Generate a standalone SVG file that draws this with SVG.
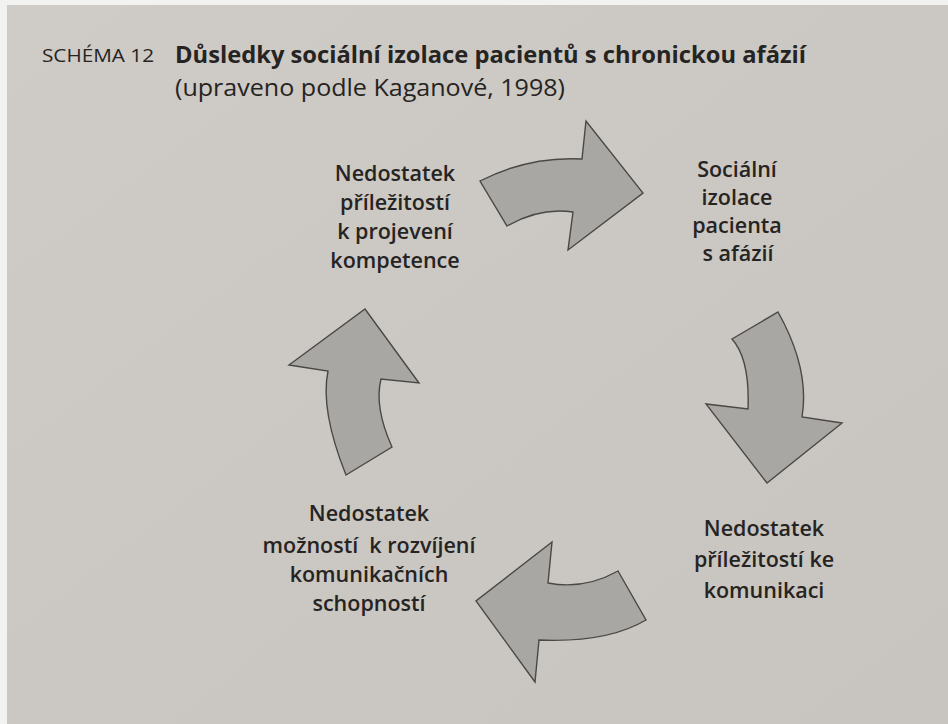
<svg xmlns="http://www.w3.org/2000/svg" width="948" height="724" viewBox="0 0 948 724">
  <defs>
    <linearGradient id="paper" x1="0" y1="0" x2="1" y2="1">
      <stop offset="0" stop-color="#cfcbc6"/>
      <stop offset="0.5" stop-color="#cbc7c2"/>
      <stop offset="1" stop-color="#c8c4bf"/>
    </linearGradient>
    <style>
      .t { font-family: "Open Sans", "Noto Sans", "DejaVu Sans", sans-serif; fill: #262422; }
      .title { font-weight: 700; font-size: 23px; }
      .sub { font-weight: 400; font-size: 23px; }
      .lbl { font-weight: 400; font-size: 18.5px; }
      .node { font-weight: 600; font-size: 21.5px; text-anchor: middle; }
      .arrow { fill: #a9a7a3; stroke: #4a4845; stroke-width: 1.4; stroke-linejoin: miter; }
    </style>
  </defs>

  <rect x="0" y="0" width="948" height="724" fill="#f2f2f0"/>
  <rect x="7" y="5" width="941" height="719" fill="url(#paper)"/>

  <g id="title">
    <text class="t lbl" x="42" y="62" textLength="112" lengthAdjust="spacingAndGlyphs">SCHÉMA 12</text>
    <text class="t title" x="175" y="63" textLength="631" lengthAdjust="spacingAndGlyphs">Důsledky sociální izolace pacientů s chronickou afázií</text>
    <text class="t sub" x="175" y="96" textLength="390" lengthAdjust="spacingAndGlyphs">(upraveno podle Kaganové, 1998)</text>
  </g>

  <g id="node-prilezitosti-kompetence">
    <text class="t node" x="395" y="181">Nedostatek</text>
    <text class="t node" x="395" y="210">příležitostí</text>
    <text class="t node" x="395" y="239">k projevení</text>
    <text class="t node" x="395" y="268">kompetence</text>
  </g>

  <g id="node-socialni-izolace">
    <text class="t node" x="737" y="177">Sociální</text>
    <text class="t node" x="737" y="205">izolace</text>
    <text class="t node" x="737" y="233">pacienta</text>
    <text class="t node" x="738" y="261">s afázií</text>
  </g>

  <g id="node-prilezitosti-komunikace">
    <text class="t node" x="764" y="536">Nedostatek</text>
    <text class="t node" x="764" y="567">příležitostí ke</text>
    <text class="t node" x="764" y="598">komunikaci</text>
  </g>

  <g id="node-moznosti-rozvijeni">
    <text class="t node" x="369" y="521">Nedostatek</text>
    <text class="t node" x="369" y="553" xml:space="preserve" style="white-space:pre">možností  k rozvíjení</text>
    <text class="t node" x="369" y="582">komunikačních</text>
    <text class="t node" x="369" y="611">schopností</text>
  </g>

  <g id="connectors">
    <path class="arrow" d="M480,181 Q529,156 582,159 L586,121 L643,193 L568,250 L573,212 Q540,207 507,226 Z"/>
    <path class="arrow" d="M732,339 L778,312 Q810,369 802,417 L842,423 L767,483 L706,404 L748,409 Q750,359 732,339 Z"/>
    <path class="arrow" d="M618,571 L646,620 Q607,643 539,640 L535,682 L476,601 L552,542 L548,583 Q584,590 618,571 Z"/>
    <path class="arrow" d="M346,475 L392,447 Q374,407 381,379 L419,383 L365,309 L289,365 L328,371 Q320,410 346,475 Z"/>
  </g>
</svg>
